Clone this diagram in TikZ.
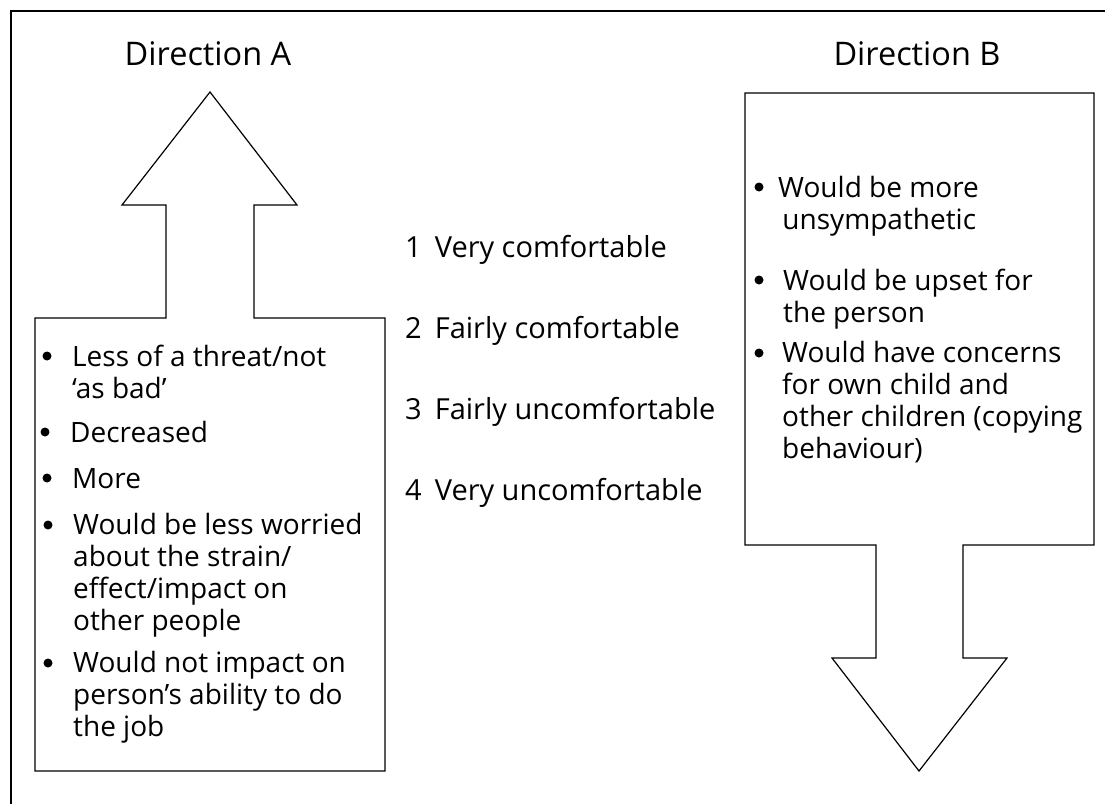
\documentclass[tikz,border=0pt]{standalone}
\usepackage{fontspec}
\setmainfont{Open Sans}
\begin{document}
\begin{tikzpicture}[x=1pt,y=-1pt,
  txt/.style={anchor=base west, inner sep=0pt, align=left, font=\fontsize{28}{31.7}\selectfont},
  scaletxt/.style={txt, font=\fontsize{29}{32}\selectfont},
  head/.style={anchor=base, inner sep=0pt, font=\fontsize{32.5}{36}\selectfont},
  bul/.style={circle, fill=black, inner sep=0pt, minimum size=9pt},
  outline/.style={draw=black, line width=1.2pt, line join=miter}]
\useasboundingbox (0,0) rectangle (1105,803);
\fill[white] (0,0) rectangle (1105,803);
% frame
\draw[line width=2.6pt] (1110,11) -- (11,11) -- (11,810);
% arrow A (up)
\draw[outline] (35,318) -- (166,318) -- (166,205) -- (122,205) -- (210,92) -- (297,205)
  -- (254,205) -- (254,318) -- (385,318) -- (385,771) -- (35,771) -- cycle;
% arrow B (down)
\draw[outline] (745,93) -- (1094,93) -- (1094,545) -- (963,545) -- (963,658) -- (1007,658)
  -- (919,771) -- (832,658) -- (876,658) -- (876,545) -- (745,545) -- cycle;
% headings
\node[head] (hA) at (208,65) {Direction A};
\node[head] (hB) at (917,65) {Direction B};
% scale (anchor = baseline)
\node[scaletxt] (s1) at (405,257) {1\hspace{0.45em}Very comfortable};
\node[scaletxt] (s2) at (405,338) {2\hspace{0.45em}Fairly comfortable};
\node[scaletxt] (s3) at (405,419) {3\hspace{0.45em}Fairly uncomfortable};
\node[scaletxt] (s4) at (405,500) {4\hspace{0.45em}Very uncomfortable};
% box A items (anchor = baseline of last line)
\node[bul] (ba1) at (47,356) {};
\node[txt] (a1) at (72,398) {Less of a threat/not\\‘as bad’};
\node[bul] (ba2) at (45,432) {};
\node[txt] (a2) at (70,442) {Decreased};
\node[bul] (ba3) at (47,478) {};
\node[txt] (a3) at (72,488) {More};
\node[bul] (ba4) at (48,525) {};
\node[txt] (a4) at (73,630) {Would be less worried\\about the strain/\\effect/impact on\\other people};
\node[bul] (ba5) at (48,663) {};
\node[txt] (a5) at (73,736) {Would not impact on\\person’s ability to do\\the job};
% box B items
\node[bul] (bb1) at (759,187) {};
\node[txt] (b1) at (778,229) {Would be more\\\hspace{0.15em}unsympathetic};
\node[bul] (bb2) at (759,280) {};
\node[txt] (b2) at (783,322) {Would be upset for\\the person};
\node[bul] (bb3) at (759,353) {};
\node[txt] (b3) at (782,458) {Would have concerns\\for own child and\\other children (copying\\behaviour)};
\end{tikzpicture}
\end{document}
